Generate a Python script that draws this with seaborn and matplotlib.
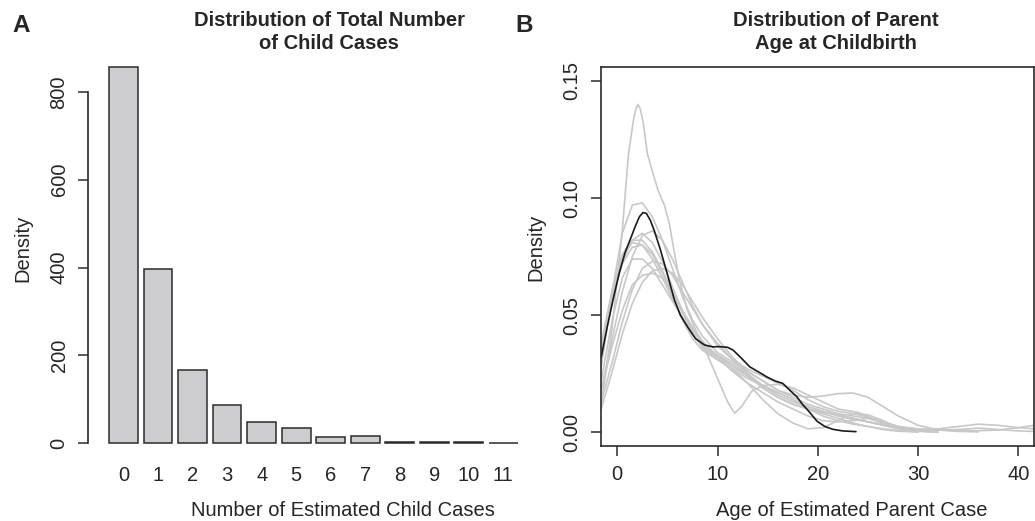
import numpy as np
import pandas as pd
import seaborn as sns
import matplotlib
matplotlib.use("Agg")
import matplotlib.pyplot as plt

# ---- data: panel A (bar heights)
child_cases = ["0", "1", "2", "3", "4", "5", "6", "7", "8", "9", "10", "11"]
case_counts = [857, 396, 166, 86, 47, 34, 13, 15, 2, 3, 3, 1]

# ---- data: panel B (density curves)
black_x = [-1.6, -1.0, -0.4, 0.2, 0.8, 1.4, 1.8, 2.2, 2.56, 2.9, 3.3, 3.7, 4.3, 4.9,
           5.7, 6.3, 7.0, 7.8, 8.7, 9.5, 10.2, 11.0, 11.55, 12.3, 13.2, 14.0, 14.9,
           15.7, 16.5, 17.2, 17.9, 18.5, 19.2, 19.9, 20.7, 21.5, 22.5, 23.8]
black_y = [0.032, 0.045, 0.057, 0.068, 0.077, 0.0835, 0.088, 0.092, 0.0938, 0.0935,
           0.0905, 0.086, 0.078, 0.069, 0.0565, 0.050, 0.0451, 0.040, 0.0373,
           0.0365, 0.0366, 0.0363, 0.0351, 0.032, 0.028, 0.026, 0.0237, 0.022,
           0.0209, 0.018, 0.0152, 0.0118, 0.0085, 0.0048, 0.0025, 0.0013, 0.0006,
           0.0003]

tall_x = [-1.6, -0.5, 0.5, 1.1, 1.6, 1.85, 2.07, 2.3, 2.6, 3.0, 3.6, 4.1, 4.7, 5.2,
          5.6, 6.2, 7.0, 8.0, 8.6, 9.5, 10.2, 11.0, 11.7, 12.4, 13.4, 14.5, 16.0,
          17.5, 19.0, 20.5, 22.0, 24.0, 26.0, 28.0, 30.0, 32.0]
tall_y = [0.012, 0.045, 0.086, 0.118, 0.133, 0.138, 0.140, 0.138, 0.132, 0.119,
          0.110, 0.103, 0.097, 0.089, 0.079, 0.065, 0.052, 0.042, 0.037, 0.028,
          0.021, 0.013, 0.0082, 0.011, 0.0175, 0.020, 0.0205, 0.019, 0.016, 0.013,
          0.010, 0.0085, 0.005, 0.002, 0.0006, 0.0001]

grid_x = [-1.6, -0.5, 0.5, 1.5, 2.5, 3.5, 4.5, 5.5, 6.5, 7.5, 8.5, 10, 11.5, 13,
          14.5, 16, 17.5, 19, 20.5, 22, 23.5, 25, 26.5, 28, 30, 32, 34, 36, 38, 40, 41.6]
gray_y = [
    [0.028, 0.060, 0.085, 0.097, 0.098, 0.092, 0.082, 0.070, 0.058, 0.048, 0.041,
     0.034, 0.030, 0.026, 0.022, 0.018, 0.015, 0.012, 0.010, 0.008, 0.007, 0.006,
     0.004, 0.002, 0.0008, 0.0003],
    [0.018, 0.040, 0.060, 0.075, 0.084, 0.086, 0.082, 0.074, 0.064, 0.054, 0.046,
     0.037, 0.031, 0.027, 0.024, 0.021, 0.018, 0.014, 0.011, 0.009, 0.008, 0.0065,
     0.0045, 0.0025, 0.001, 0.0003],
    [0.033, 0.056, 0.073, 0.082, 0.085, 0.081, 0.073, 0.062, 0.052, 0.044, 0.038,
     0.033, 0.029, 0.024, 0.019, 0.015, 0.012, 0.010, 0.008, 0.006, 0.004, 0.0025,
     0.0012, 0.0005, 0.0001],
    [0.038, 0.061, 0.076, 0.082, 0.082, 0.077, 0.069, 0.060, 0.051, 0.043, 0.036,
     0.031, 0.027, 0.023, 0.020, 0.017, 0.014, 0.011, 0.009, 0.007, 0.0055, 0.0045,
     0.0035, 0.0025, 0.0015, 0.001, 0.0012, 0.0018, 0.0012, 0.0006, 0.0004],
    [0.030, 0.058, 0.075, 0.081, 0.080, 0.074, 0.066, 0.057, 0.049, 0.042, 0.037,
     0.032, 0.029, 0.025, 0.020, 0.016, 0.013, 0.011, 0.009, 0.0075, 0.006, 0.0045,
     0.003, 0.0018, 0.0012, 0.0015, 0.0025, 0.0035, 0.003, 0.002, 0.0015],
    [0.022, 0.048, 0.066, 0.074, 0.074, 0.070, 0.063, 0.056, 0.049, 0.042, 0.037,
     0.032, 0.028, 0.024, 0.020, 0.017, 0.014, 0.010, 0.007, 0.005, 0.0035, 0.0025,
     0.0015, 0.0008, 0.0003],
    [0.013, 0.030, 0.047, 0.061, 0.070, 0.073, 0.072, 0.067, 0.060, 0.053, 0.046,
     0.038, 0.031, 0.025, 0.019, 0.015, 0.012, 0.010, 0.0085, 0.0075, 0.006, 0.0045,
     0.003, 0.0015, 0.0005, 0.0002],
    [0.010, 0.026, 0.042, 0.055, 0.064, 0.069, 0.070, 0.068, 0.063, 0.056, 0.049,
     0.040, 0.032, 0.026, 0.022, 0.018, 0.016, 0.015, 0.0155, 0.0165, 0.0168, 0.015,
     0.011, 0.007, 0.003, 0.001, 0.0004, 0.0002],
    [0.018, 0.037, 0.052, 0.063, 0.067, 0.068, 0.066, 0.060, 0.052, 0.045, 0.039,
     0.032, 0.026, 0.021, 0.017, 0.013, 0.010, 0.007, 0.005, 0.0045, 0.005, 0.006,
     0.0045, 0.0025, 0.0012, 0.001, 0.0008, 0.0007, 0.001, 0.002, 0.003],
    [0.035, 0.058, 0.072, 0.079, 0.080, 0.076, 0.068, 0.058, 0.048, 0.040, 0.035,
     0.031, 0.027, 0.021, 0.014, 0.008, 0.004, 0.0015, 0.002, 0.005, 0.008, 0.0075,
     0.005, 0.002, 0.0005, 0.0001],
]

sns.set_style("white")
plt.rcParams["font.family"] = ["Liberation Sans", "DejaVu Sans"]
plt.rcParams["font.size"] = 14.5

W, H = 1035, 521
fig = plt.figure(figsize=(W / 100, H / 100), dpi=100)

def px_box(left, top, right, bottom):
    return [left / W, 1 - bottom / H, (right - left) / W, (bottom - top) / H]

ink = "#2b2b2b"
fs = 14.5

# ---- panel A
axA = fig.add_axes(px_box(88, 52, 534, 458))
sns.barplot(x=child_cases, y=case_counts, color="#cdcdcf", saturation=1,
            edgecolor=ink, linewidth=1.1, width=0.833, ax=axA)
axA.set_xlim(-1.03, 11.89)
axA.set_ylim(-34, 891)
for s in ["top", "right", "bottom"]:
    axA.spines[s].set_visible(False)
axA.spines["left"].set_bounds(0, 800)
axA.spines["left"].set_color(ink)
axA.spines["left"].set_linewidth(1.2)
axA.set_yticks([0, 200, 400, 600, 800])
axA.tick_params(axis="y", left=True, direction="out", length=7, width=1.1,
                color=ink, pad=7, labelrotation=90, labelsize=fs)
axA.tick_params(axis="x", bottom=False, length=0, pad=6, labelsize=fs)
for lab in axA.get_yticklabels():
    lab.set_va("center")
axA.set_xlabel("")
axA.set_ylabel("")

# ---- panel B
axB = fig.add_axes(px_box(601, 66.7, 1033.5, 445.7))
sns.lineplot(x=tall_x, y=tall_y, color="#c8c8c8", linewidth=1.2, ax=axB)
for ys in gray_y:
    sns.lineplot(x=grid_x[:len(ys)], y=ys, color="#c8c8c8", linewidth=1.2, ax=axB)
sns.lineplot(x=black_x, y=black_y, color="#1a1a1a", linewidth=1.2, ax=axB)
axB.set_xlim(-1.62, 41.5)
axB.set_ylim(-0.0057, 0.1561)
axB.set_xticks([0, 10, 20, 30, 40])
axB.set_yticks([0.0, 0.05, 0.10, 0.15])
axB.set_yticklabels(["0.00", "0.05", "0.10", "0.15"])
for s in axB.spines.values():
    s.set_color(ink)
    s.set_linewidth(1.2)
axB.tick_params(axis="both", left=True, bottom=True, direction="out", length=7,
                width=1.1, color=ink, pad=7, labelsize=fs)
axB.tick_params(axis="y", labelrotation=90)
for lab in axB.get_yticklabels():
    lab.set_va("center")
axB.set_xlabel("")
axB.set_ylabel("")

# ---- texts
def ftext(x, y, s, **kw):
    fig.text(x / W, 1 - y / H, s, **kw)

ftext(12, 32, "A", fontsize=17.5, fontweight="bold", va="baseline")
ftext(515, 32, "B", fontsize=17.5, fontweight="bold", va="baseline")
ftext(329, 25.7, "Distribution of Total Number", fontsize=fs, fontweight="bold",
      ha="center", va="baseline")
ftext(329, 49.3, "of Child Cases", fontsize=fs, fontweight="bold",
      ha="center", va="baseline")
ftext(836, 25.7, "Distribution of Parent", fontsize=fs, fontweight="bold",
      ha="center", va="baseline")
ftext(836, 49.3, "Age at Childbirth", fontsize=fs, fontweight="bold",
      ha="center", va="baseline")
ftext(343, 516, "Number of Estimated Child Cases", fontsize=fs, ha="center",
      va="baseline")
ftext(852, 516, "Age of Estimated Parent Case", fontsize=fs, ha="center",
      va="baseline")
ftext(23, 248, "Density", fontsize=fs, rotation=90, ha="center", va="center")
ftext(536, 247, "Density", fontsize=fs, rotation=90, ha="center", va="center")

fig.savefig("out.png", dpi=100)
